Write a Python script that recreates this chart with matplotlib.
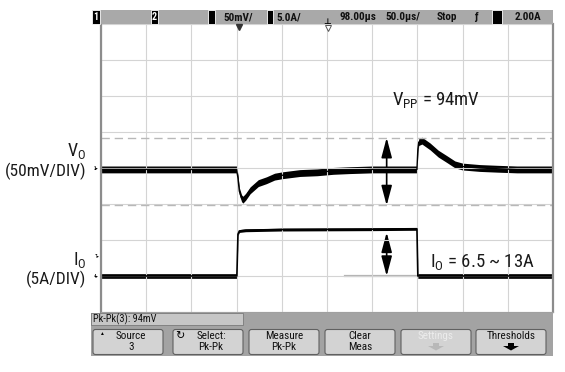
import numpy as np
import matplotlib.pyplot as plt
from matplotlib.patches import Rectangle, FancyBboxPatch, FancyArrowPatch, Polygon

plt.rcParams['font.family'] = ['Roboto Condensed', 'Archivo Narrow', 'Liberation Sans', 'DejaVu Sans']
plt.rcParams['mathtext.fontset'] = 'custom'
plt.rcParams['mathtext.rm'] = 'Roboto Condensed'

# scope settings
t_per_div = 50.0          # us/div
vo_scale = 50.0           # mV/div
io_scale = 5.0            # A/div
vo_pos = -0.04            # channel 3 position (div)
io_ref_level, io_ref_div = 6.5, -3.0   # channel 4: 6.5 A sits on the -3 div line

# Vo ripple (mV) vs time (us)
vo_t = [0, 150, 151.5, 153, 155.5, 157, 160, 165, 174, 183, 192, 201, 220, 239, 257, 275, 300,
        349.5, 350.5, 351.5, 355, 364, 373, 383, 391.5, 400, 419, 438, 460, 500]
vo_mv = [0, 0, -12, -30, -40, -42, -38, -29, -19, -15, -10, -8, -5, -4, -2, -1, 0,
         0, 28, 38, 40, 32, 22, 14, 7, 4, 2, 1, 0, 0]

# Io load step (A) vs time (us)
io_t = [0, 150.3, 151.5, 153, 160, 200, 300, 349.5, 350.5, 500]
io_a = [6.5, 6.5, 12.3, 12.75, 12.85, 12.95, 13.0, 13.05, 6.5, 6.5]

# Vpp cursor levels (mV) and arrow time
vpp_hi, vpp_lo = 44, -50
arrow_t = 316
io_arrow = (12.55, 6.5)
ext_line_t = (270, 350)

status_items = ['50mV/', '5.0A/', '98.00µs', '50.0µs/', 'Stop', 'ƒ', '2.00A']
softkeys = [('Source', '3'), ('Select:', 'Pk-Pk'), ('Measure', 'Pk-Pk'),
            ('Clear', 'Meas'), ('Settings', ''), ('Thresholds', '')]
meas_text = 'Pk-Pk(3): 94mV'

W, H = 565, 372
fig = plt.figure(figsize=(W / 100, H / 100), dpi=100)


def frac(x0, y0, x1, y1):
    return [x0 / W, 1 - y1 / H, (x1 - x0) / W, (y1 - y0) / H]


# ---- scope screen ----
ax = fig.add_axes(frac(101, 24, 553, 312))
ax.set_xlim(0, 10 * t_per_div)
ax.set_ylim(-4, 4)
ax.set_xticks(np.arange(0, 10 * t_per_div + 1, t_per_div))
ax.set_yticks(np.arange(-4, 5))
ax.tick_params(length=0, labelbottom=False, labelleft=False)
ax.grid(True, color='#d4d4d4', lw=0.8)
for s in ['left', 'right']:
    ax.spines[s].set_color('#8c8c8c')
    ax.spines[s].set_linewidth(1.6)
ax.spines['top'].set_visible(False)
ax.spines['bottom'].set_color('#a0a0a0')

vo_div = vo_pos + np.array(vo_mv) / vo_scale
io_arr = np.array(io_a)
io_div = io_ref_div + (io_arr - io_ref_level) / io_scale
io_half = np.where(io_arr > 9, 0.04, 0.065)

# cursor dashed lines
for lv in (vpp_hi, vpp_lo):
    ax.axhline(vo_pos + lv / vo_scale, color='#b8b8b8', lw=1.0, dashes=(6, 3.5))

# traces (thick noisy bands)
ax.fill_between(vo_t, vo_div - 0.095, vo_div + 0.095, color='black', lw=0)
ax.plot(vo_t, vo_div, color='black', lw=1.0)
ax.fill_between(io_t, io_div - io_half, io_div + io_half, color='black', lw=0)
ax.plot(io_t, io_div, color='black', lw=1.2)

# gray extension of the low current level
ax.plot(ext_line_t, [io_ref_div] * 2, color='#b4b4b4', lw=1.6, zorder=1.5)

# double arrows
for y0, y1 in [(vo_pos + vpp_hi / vo_scale, vo_pos + vpp_lo / vo_scale),
               (io_ref_div + (io_arrow[0] - io_ref_level) / io_scale,
                io_ref_div + (io_arrow[1] - io_ref_level) / io_scale)]:
    ax.add_patch(FancyArrowPatch((arrow_t, y0), (arrow_t, y1),
                                 arrowstyle='<|-|>,head_length=1.2,head_width=0.32',
                                 mutation_scale=10, color='black', lw=1.2,
                                 shrinkA=0, shrinkB=0))

ax.text(322, 1.76, r'$\mathrm{V_{PP}}$ = 94mV', fontsize=13.5, color='#1a1a1a',
        va='baseline', ha='left')
ax.text(364, -2.75, r'$\mathrm{I_O}$ = 6.5 ~ 13A', fontsize=13.5, color='#1a1a1a',
        va='baseline', ha='left')

# ---- chrome overlay (pixel coordinates) ----
ui = fig.add_axes([0, 0, 1, 1])
ui.set_xlim(0, W)
ui.set_ylim(H, 0)
ui.axis('off')
ui.patch.set_alpha(0)

# status bar
ui.add_patch(Rectangle((92, 10), 461, 14, fc='#a9a9a9', ec='none'))
for x0, w in [(92, 8), (151, 7), (208, 7), (267, 6), (492, 10)]:
    ui.add_patch(Rectangle((x0, 10), w, 14, fc='black', ec='white', lw=0.6))
ui.text(96, 17.5, '1', color='white', fontsize=7, ha='center', va='center', weight='bold')
ui.text(154.5, 17.5, '2', color='white', fontsize=7, ha='center', va='center', weight='bold')
for xc, s in zip([238, 289, 358, 403, 447, 476, 528], status_items):
    ui.text(xc, 17.5, s, fontsize=8, ha='center', va='center', weight='bold', color='#111111')
# markers under the status bar
ui.plot([238.5], [26.5], marker='v', ms=4, color='#333333')
ui.plot([327.5], [27.5], marker='v', ms=4, mfc='white', mec='#555555', mew=0.7)
ui.text(327.5, 21, '⊥', fontsize=6, ha='center', va='center', weight='bold')

# channel markers at left edge
ui.text(96, 169, '3▸', fontsize=3.5, ha='center', va='center')
ui.text(97, 256, 'T▸', fontsize=3.5, ha='center', va='center')
ui.text(96, 276, '4▸', fontsize=3.5, ha='center', va='center')

# left labels
ui.text(86, 156, r'$\mathrm{V_O}$', fontsize=13, ha='right', va='baseline', color='#1a1a1a')
ui.text(86, 171, '(50mV/DIV)', fontsize=12.5, ha='right', va='center', color='#1a1a1a')
ui.text(86, 264.5, r'$\mathrm{I_O}$', fontsize=13, ha='right', va='baseline', color='#1a1a1a')
ui.text(86, 279.5, '(5A/DIV)', fontsize=12.5, ha='right', va='center', color='#1a1a1a')

# bottom soft-key panel
ui.add_patch(Rectangle((91, 313), 462, 43, fc='#a3a3a3', ec='none'))
ui.add_patch(Rectangle((91, 313), 152, 12, fc='#c6c6c6', ec='#7a7a7a', lw=0.6))
ui.text(93, 319.5, meas_text, fontsize=7.5, ha='left', va='center', color='#111111')
key_x = [93, 173, 249, 325, 401, 476]
for i, (x0, (l1, l2)) in enumerate(zip(key_x, softkeys)):
    ui.add_patch(FancyBboxPatch((x0, 329.5), 70, 25, boxstyle='round,pad=0,rounding_size=2.5',
                                fc='#d3d3d3', ec='#606060', lw=0.8))
    col = '#ececec' if l1 == 'Settings' else '#111111'
    xc = x0 + 35 + (3 if i in (0, 1) else 0)
    ui.text(xc, 336, l1, fontsize=8, ha='center', va='center', color=col)
    if l2:
        ui.text(xc, 346.5, l2, fontsize=8, ha='center', va='center', color=col)
    if l1 in ('Settings', 'Thresholds'):
        ac = '#b8b8b8' if l1 == 'Settings' else 'black'
        cx = x0 + 35
        ui.add_patch(Polygon([(cx - 3, 343), (cx + 3, 343), (cx + 3, 346), (cx + 8, 346),
                              (cx, 350.5), (cx - 8, 346), (cx - 3, 346)], closed=True,
                             fc=ac, ec='none'))
ui.text(101, 333.5, '▲', fontsize=3.5, ha='center', va='center')
ui.text(180, 336, '↻', fontsize=8, ha='center', va='center')

fig.savefig('out.png', dpi=100)
